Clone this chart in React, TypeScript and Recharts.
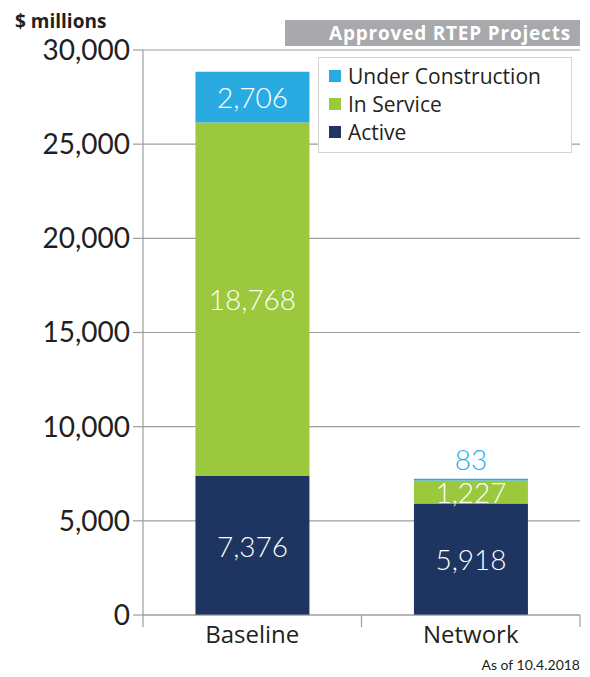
import { Bar, BarChart, CartesianGrid, LabelList, Legend, XAxis, YAxis } from "recharts";

const categories = ["Baseline", "Network"];
const active = [7376, 5918];
const inService = [18768, 1227];
const underConstruction = [2706, 83];
const yTicks = [0, 5000, 10000, 15000, 20000, 25000, 30000];

const BLUE = "#29abe2";
const GREEN = "#9bc83c";
const NAVY = "#1e3461";
const TEXT = "#231f20";
const GRID = "#9d9d9d";
const FONT = "Lato, 'Open Sans', sans-serif";
const WIDE = "'Open Sans', Lato, sans-serif";

const CHART_W = 590;
const CHART_H = 677;
const MARGIN = { top: 50, right: 10, left: 0, bottom: 15 };
const Y_AXIS_W = 143;
// half of one category band, so the bottom ticks can sit on the band edges
const HALF_BAND = (CHART_W - MARGIN.left - MARGIN.right - Y_AXIS_W) / categories.length / 2;

const data = categories.map((name, i) => ({
  name,
  active: active[i],
  inService: inService[i],
  underConstruction: underConstruction[i],
}));

const fmt = (v: number) => v.toLocaleString("en-US");

const legendItems = [
  { label: "Under Construction", color: BLUE },
  { label: "In Service", color: GREEN },
  { label: "Active", color: NAVY },
];

const renderLegend = () => (
  <div
    style={{
      border: "1.5px solid #d4d4d4",
      background: "white",
      padding: "4px 6px 6px 10px",
      fontFamily: WIDE,
      fontSize: 21,
      color: TEXT,
      width: 254,
      boxSizing: "border-box",
      textAlign: "left",
    }}
  >
    {legendItems.map((it) => (
      <div key={it.label} style={{ display: "flex", alignItems: "center", height: 28, whiteSpace: "nowrap" }}>
        <span style={{ width: 12, height: 12, background: it.color, marginRight: 7, display: "inline-block", flex: "none" }} />
        {it.label}
      </div>
    ))}
  </div>
);

const BottomTick = (props: any) => {
  const { x, y, payload, index } = props;
  return (
    <g>
      {index === 0 && (
        <line x1={x - HALF_BAND} x2={x - HALF_BAND} y1={y} y2={y + 12} stroke={GRID} strokeWidth={1.2} />
      )}
      <line x1={x + HALF_BAND} x2={x + HALF_BAND} y1={y} y2={y + 12} stroke={GRID} strokeWidth={1.2} />
      <text x={x} y={y + 11} dy="0.71em" textAnchor="middle" fill={TEXT} fontSize={24} fontFamily={WIDE}>
        {payload.value}
      </text>
    </g>
  );
};

const centerLabel = (props: any) => {
  const { x, y, width, height, value } = props;
  return (
    <text
      x={x + width / 2}
      y={y + height / 2}
      textAnchor="middle"
      dominantBaseline="central"
      fill="white"
      fontSize={28}
      fontFamily={FONT}
      fontWeight={300}
    >
      {fmt(value)}
    </text>
  );
};

const topLabel = (props: any) => {
  const { x, y, width, height, value } = props;
  const small = height < 20;
  return (
    <text
      x={x + width / 2}
      y={small ? y - 20 : y + height / 2}
      textAnchor="middle"
      dominantBaseline="central"
      fill={small ? BLUE : "white"}
      fontSize={28}
      fontFamily={FONT}
      fontWeight={300}
    >
      {fmt(value)}
    </text>
  );
};

export default function App() {
  return (
    <div style={{ position: "absolute", top: 0, left: 0, width: CHART_W, height: CHART_H, background: "white", fontFamily: FONT }}>
      <div style={{ position: "absolute", left: 15, top: 8, fontSize: 19, fontWeight: 700, color: TEXT, fontFamily: WIDE }}>
        $ millions
      </div>
      <div
        style={{
          position: "absolute",
          left: 285,
          top: 20,
          width: 295,
          height: 26,
          background: "#a7a9ac",
          color: "white",
          fontWeight: 700,
          fontSize: 19,
          letterSpacing: 0.8,
          fontFamily: WIDE,
          textAlign: "right",
          lineHeight: "26px",
          paddingRight: 9,
          boxSizing: "border-box",
          whiteSpace: "nowrap",
        }}
      >
        Approved RTEP Projects
      </div>
      <BarChart width={CHART_W} height={CHART_H} data={data} margin={MARGIN} barCategoryGap="24%">
        <CartesianGrid vertical={false} stroke={GRID} strokeWidth={1.2} />
        <XAxis
          dataKey="name"
          interval={0}
          axisLine={{ stroke: GRID, strokeWidth: 1.2 }}
          tickLine={false}
          tickSize={0}
          tickMargin={0}
          tick={<BottomTick />}
          height={47}
        />
        <YAxis
          width={Y_AXIS_W}
          domain={[0, 30000]}
          ticks={yTicks}
          interval={0}
          tickFormatter={fmt}
          axisLine={{ stroke: GRID, strokeWidth: 1.2 }}
          tickLine={{ stroke: GRID, strokeWidth: 1.2 }}
          tickSize={10}
          tickMargin={3}
          tick={{ fill: TEXT, fontSize: 28, fontFamily: FONT }}
        />
        <Legend
          content={renderLegend}
          layout="horizontal"
          verticalAlign="middle"
          align="center"
          wrapperStyle={{ top: 57, left: 318, width: 254 }}
        />
        <Bar dataKey="active" stackId="a" fill={NAVY} isAnimationActive={false} name="Active">
          <LabelList dataKey="active" content={centerLabel} />
        </Bar>
        <Bar dataKey="inService" stackId="a" fill={GREEN} isAnimationActive={false} name="In Service">
          <LabelList dataKey="inService" content={centerLabel} />
        </Bar>
        <Bar dataKey="underConstruction" stackId="a" fill={BLUE} isAnimationActive={false} name="Under Construction">
          <LabelList dataKey="underConstruction" content={topLabel} />
        </Bar>
      </BarChart>
      <div style={{ position: "absolute", right: 10, top: 656, fontSize: 14, color: TEXT }}>As of 10.4.2018</div>
    </div>
  );
}
